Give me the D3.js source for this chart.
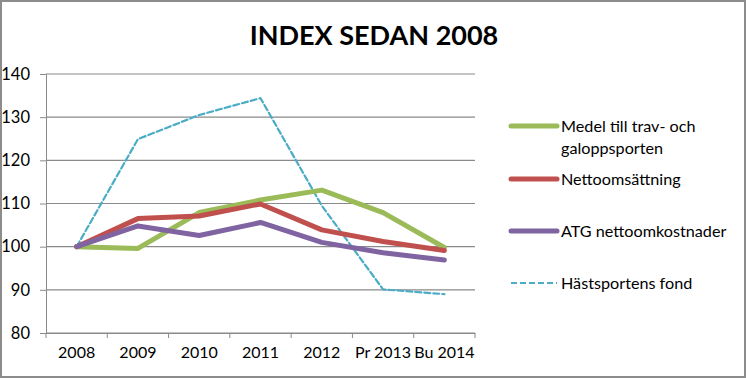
<!DOCTYPE html>
<html><head><meta charset="utf-8">
<script src="https://cdn.jsdelivr.net/npm/d3@7"></script>
<style>body{margin:0;background:#fff}svg{display:block}</style>
</head><body>
<svg id="c" width="746" height="378"></svg>
<script>
const categories = ["2008","2009","2010","2011","2012","Pr 2013","Bu 2014"];
const medel = [100, 99.6, 107.9, 110.8, 113.1, 107.9, 99.8];
const netto = [100, 106.5, 107.1, 109.9, 103.9, 101.2, 99.1];
const atg = [100, 104.8, 102.6, 105.6, 101.0, 98.6, 96.9];
const fond = [100, 124.9, 130.5, 134.4, 109.5, 90.1, 89.0];
const yTicks = [80, 90, 100, 110, 120, 130, 140];
const seriesNames = ["Medel till trav- och galoppsporten", "Nettoomsättning", "ATG nettoomkostnader", "Hästsportens fond"];

const svg = d3.select("#c");
const W = 746, H = 378;
svg.append("rect").attr("x",1).attr("y",1).attr("width",W-2).attr("height",H-2)
  .attr("fill","#fff").attr("stroke","#8c8c8c").attr("stroke-width",2);

const font = "Lato, sans-serif";
svg.append("text").attr("x",374).attr("y",45).attr("text-anchor","middle")
  .attr("font-family",font).attr("font-weight","bold").attr("font-size",27)
  .attr("fill","#000").text("INDEX SEDAN 2008");

const x = d3.scaleBand().domain(categories).range([46,475]);
const y = d3.scaleLinear().domain([80,140]).range([333,74]);

const g = svg.append("g");
g.selectAll("line.grid").data(yTicks).join("line")
  .attr("x1",46).attr("x2",475).attr("y1",d=>y(d)).attr("y2",d=>y(d))
  .attr("stroke","#8a8a8a").attr("stroke-width",1.2);

const yAxis = d3.axisLeft(y).tickValues(yTicks).tickSize(6).tickPadding(10);
const ya = svg.append("g").attr("transform","translate(46,0)").call(yAxis);
ya.select(".domain").attr("stroke","#8a8a8a");
ya.selectAll(".tick line").attr("stroke","#8a8a8a");
ya.selectAll("text").attr("font-family",font).attr("font-size",16.5).attr("fill","#000");

const xAxis = d3.axisBottom(x).tickSize(0).tickPadding(14);
const xa = svg.append("g").attr("transform","translate(0,333)").call(xAxis);
xa.select(".domain").attr("stroke","#8a8a8a");
xa.selectAll("text").attr("font-family",font).attr("font-size",16).attr("fill","#000");
const bounds = categories.map(c=>x(c)).concat([x.range()[1]]);
xa.selectAll("line.bt").data(bounds).join("line").attr("class","bt")
  .attr("x1",d=>d).attr("x2",d=>d).attr("y1",0).attr("y2",5).attr("stroke","#8a8a8a");

const cx = c => x(c) + x.bandwidth()/2;
const line = d3.line().x((d,i)=>cx(categories[i])).y(d=>y(d));

const series = [
  {v: medel, color:"#9BBB59", w:5, dash:null},
  {v: netto, color:"#C0504D", w:5, dash:null},
  {v: atg, color:"#8064A2", w:5, dash:null},
  {v: fond, color:"#4BACC6", w:2.2, dash:"6,3"}
];
const drawOrder = [3,0,1,2];
drawOrder.forEach(i=>{
  const s = series[i];
  svg.append("path").datum(s.v).attr("d",line).attr("fill","none")
    .attr("stroke",s.color).attr("stroke-width",s.w)
    .attr("stroke-linejoin","round").attr("stroke-linecap","round")
    .attr("stroke-dasharray",s.dash);
});

const legY = [126, 179, 231, 283];
const leg = svg.append("g");
series.forEach((s,i)=>{
  leg.append("line").attr("x1",511).attr("x2",557).attr("y1",legY[i]).attr("y2",legY[i])
    .attr("stroke",s.color).attr("stroke-width",s.w).attr("stroke-linecap",s.dash?"butt":"round")
    .attr("stroke-dasharray",s.dash);
});
const legText = [["Medel till trav- och", "galoppsporten"],[seriesNames[1]],[seriesNames[2]],[seriesNames[3]]];
legText.forEach((lines,i)=>{
  lines.forEach((t,j)=>{
    leg.append("text").attr("x",561).attr("y",legY[i]+6+j*22)
      .attr("font-family",font).attr("font-size",16.2).attr("fill","#000").text(t);
  });
});
</script>
</body></html>
